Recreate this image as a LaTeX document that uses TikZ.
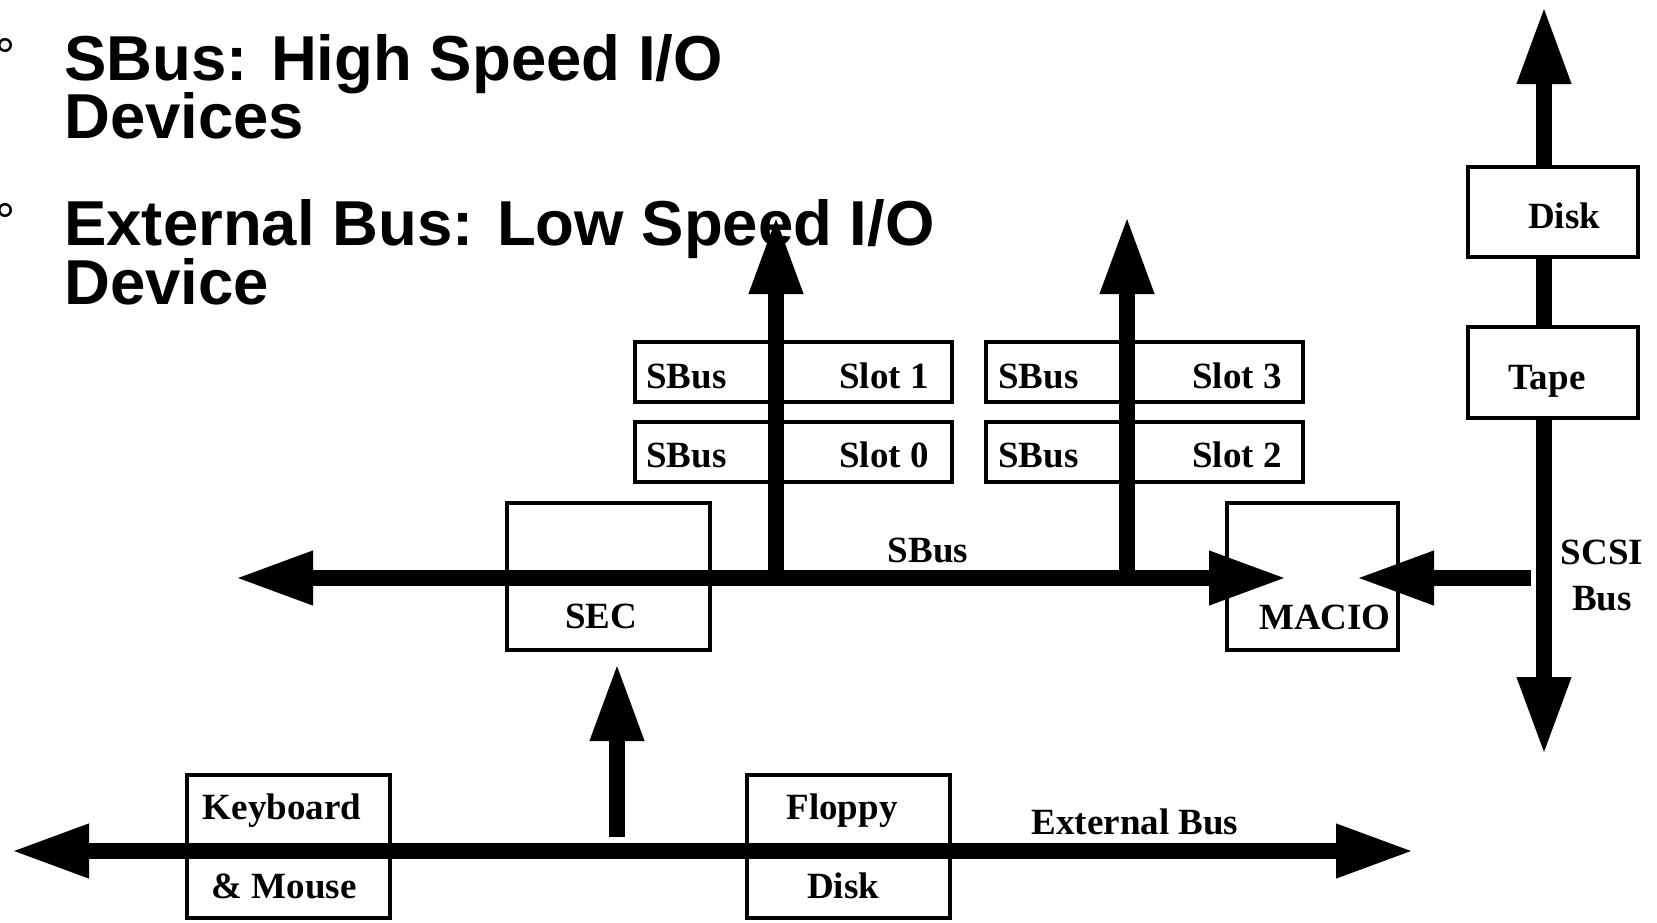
\documentclass[tikz,border=0pt]{standalone}
\usepackage{fontspec}
\setmainfont{Liberation Serif}
\newfontfamily\headfont{Liberation Sans}
\usetikzlibrary{arrows.meta}

\begin{document}
\begin{tikzpicture}[x=1pt,y=-1pt,
    box/.style={draw, line width=4pt, inner sep=0pt},
    lbl/.style={font=\bfseries\fontsize{37}{40}\selectfont, inner sep=0pt, anchor=base},
    head/.style={font=\headfont\bfseries\fontsize{63.5}{58}\selectfont, inner sep=0pt, anchor=base west},
    dot/.style={circle, draw, line width=2.5pt, minimum size=11.5pt, inner sep=0pt},
    bus/.style={line width=16pt},
    tip/.style={-{Triangle[length=78pt,width=50pt]}},
    tips/.style={{Triangle[length=78pt,width=50pt]}-{Triangle[length=78pt,width=50pt]}}]
  \useasboundingbox (0,0) rectangle (1657,922);

  % headings
  \node[dot] (dot1) at (5,45) {};
  \node[dot] (dot2) at (5,210) {};
  \node[head] (h1) at (64,80) {SBus: High Speed I/O};
  \node[head] (h2) at (64,138) {Devices};
  \node[head] (h3) at (64,245) {External Bus: Low Speed I/O};
  \node[head] (h4) at (64,304) {Device};

  % SCSI bus first, the drive boxes cover it
  \coordinate (scT) at (1544,6);
  \coordinate (scB) at (1544,755);
  \draw[bus, tips] (scT) -- (scB);
  \node[box, fill=white, minimum width=170pt, minimum height=90pt] (disk) at (1553,212) {};
  \node[lbl] (diskT) at (1564,228) {Disk};
  \node[box, fill=white, minimum width=170pt, minimum height=91pt] (tape) at (1553,372.5) {};
  \node[lbl] (tapeT) at (1547,389) {Tape};

  % SBus slots
  \node[box, minimum width=317pt, minimum height=60pt] (slot1) at (793,372) {};
  \node[box, minimum width=317pt, minimum height=60pt] (slot0) at (793,452) {};
  \node[box, minimum width=317pt, minimum height=60pt] (slot3) at (1144.5,372) {};
  \node[box, minimum width=317pt, minimum height=60pt] (slot2) at (1144.5,452) {};
  \node[lbl, anchor=base west] (s1a) at (646,388) {SBus};
  \node[lbl, anchor=base east] (s1b) at (929,388) {Slot 1};
  \node[lbl, anchor=base west] (s0a) at (646,467) {SBus};
  \node[lbl, anchor=base east] (s0b) at (929,467) {Slot 0};
  \node[lbl, anchor=base west] (s3a) at (998,388) {SBus};
  \node[lbl, anchor=base east] (s3b) at (1282,388) {Slot 3};
  \node[lbl, anchor=base west] (s2a) at (998,467) {SBus};
  \node[lbl, anchor=base east] (s2b) at (1282,467) {Slot 2};

  % controllers
  \node[box, minimum width=203pt, minimum height=147pt] (sec) at (608.5,576) {};
  \node[lbl] (secT) at (601,628) {SEC};
  \node[box, minimum width=171pt, minimum height=147pt] (macio) at (1312.5,576) {};
  \node[lbl] (macioT) at (1325,629) {MACIO};

  % external bus devices
  \node[box, minimum width=203pt, minimum height=143pt] (kbd) at (288.5,846) {};
  \node[lbl] (kbdA) at (282,819) {Keyboard};
  \node[lbl] (kbdB) at (284,898) {\& Mouse};
  \node[box, minimum width=203pt, minimum height=143pt] (fd) at (848.5,846) {};
  \node[lbl] (fdA) at (842,819) {Floppy};
  \node[lbl] (fdB) at (843,898) {Disk};

  % bus labels
  \node[lbl] (sbusT) at (928,562) {SBus};
  \node[lbl] (extT) at (1135,834) {External Bus};
  \node[lbl] (scsiA) at (1602,564) {SCSI};
  \node[lbl] (scsiB) at (1602,610) {Bus};

  % bus ends
  \coordinate (sbl) at (235,578);
  \coordinate (sbr) at (1287,578);
  \coordinate (j1) at (776,578);
  \coordinate (u1) at (776,216);
  \coordinate (j2) at (1127,578);
  \coordinate (u2) at (1127,216);
  \coordinate (scJ) at (1531,578);
  \coordinate (mIn) at (1356,578);
  \coordinate (exl) at (11,851);
  \coordinate (exr) at (1414,851);
  \coordinate (exJ) at (617,837);
  \coordinate (secIn) at (617,663);

  % Draw buses
  \draw[bus, tips] (sbl) -- (sbr);
  \draw[bus, tip] (j1) -- (u1);
  \draw[bus, tip] (j2) -- (u2);
  \draw[bus, tip] (scJ) -- (mIn);
  \draw[bus, tips] (exl) -- (exr);
  \draw[bus, tip] (exJ) -- (secIn);
\end{tikzpicture}
\end{document}
